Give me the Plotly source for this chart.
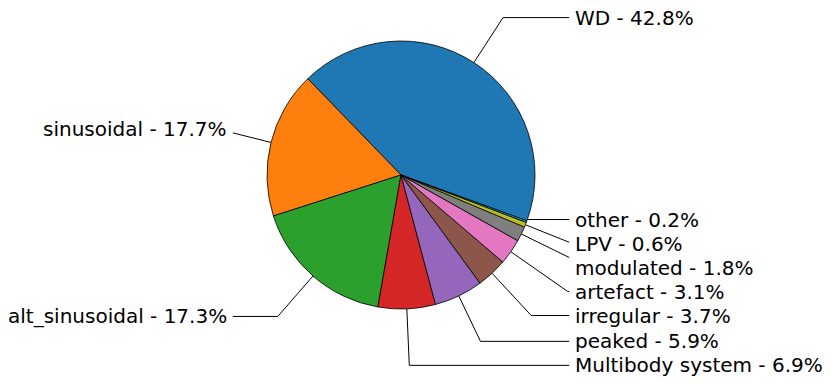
import numpy as np
import plotly.graph_objects as go

# ---- data ----
labels = ["WD", "sinusoidal", "alt_sinusoidal", "Multibody system", "peaked",
          "irregular", "artefact", "modulated", "LPV", "other"]
percent = [42.8, 17.7, 17.3, 6.9, 5.9, 3.7, 3.1, 1.8, 0.6, 0.2]
colors = ["#1f77b4", "#ff7f0e", "#2ca02c", "#d62728", "#9467bd",
          "#8c564b", "#e377c2", "#7f7f7f", "#bcbd22", "#17becf"]

# ---- layout constants (pixels) ----
W, H = 831, 385
CX, CY, R = 401, 175, 134
START = -20.0        # start angle of first wedge (deg, math convention)
TEXT_Y = 1.4         # label y factor (matplotlib-style 1.4*y)
TEXT_X = 1.28        # label x factor
EDGE_X = 1.255       # leader line end factor
GAP = 24             # minimum vertical gap between labels (px)

n = len(percent)
total = float(sum(percent))
cum = np.concatenate([[0.0], np.cumsum(percent)])
theta1 = START + 360.0 * cum[:-1] / total
theta2 = START + 360.0 * cum[1:] / total
mid = np.deg2rad((theta1 + theta2) / 2.0)

px_ = CX + R * np.cos(mid)
py_ = CY - R * np.sin(mid)
side = np.where(np.cos(mid) >= 0, 1, -1)
ty = CY - TEXT_Y * R * np.sin(mid)

# de-overlap labels per side (cluster spreading)
for s in (1, -1):
    idx = sorted([i for i in range(n) if side[i] == s], key=lambda i: ty[i])
    clusters = [[i] for i in idx]

    def positions(cl):
        c = np.mean([ty[i] for i in cl])
        m = len(cl)
        return [c + (k - (m - 1) / 2.0) * GAP for k in range(m)]

    merged = True
    while merged:
        merged = False
        for k in range(len(clusters) - 1):
            a, b = positions(clusters[k]), positions(clusters[k + 1])
            if a[-1] + GAP > b[0]:
                clusters[k] = clusters[k] + clusters[k + 1]
                del clusters[k + 1]
                merged = True
                break
    new_ty = ty.copy()
    for cl in clusters:
        for i, y in zip(cl, positions(cl)):
            new_ty[i] = y
    ty = new_ty

# leader lines
lx, ly = [], []
for i in range(n):
    s = side[i]
    ex = CX + s * EDGE_X * R
    dy = CY - ty[i]
    corner_x = CX + dy * np.cos(mid[i]) / np.sin(mid[i])
    if s * (corner_x - ex) > 0:
        y_at = CY - (ex - CX) * np.tan(mid[i])
        lx += [px_[i], ex, None]
        ly += [py_[i], y_at, None]
    else:
        lx += [px_[i], corner_x, ex, None]
        ly += [py_[i], ty[i], ty[i], None]

fig = go.Figure()

fig.add_trace(go.Pie(
    values=percent, labels=labels, sort=False, direction="counterclockwise",
    rotation=90.0 - theta2[0],
    marker=dict(colors=colors, line=dict(color="black", width=0.8)),
    textinfo="none", hoverinfo="label+percent", showlegend=False,
    domain=dict(x=[(CX - R) / W, (CX + R) / W],
                y=[1 - (CY + R) / H, 1 - (CY - R) / H]),
))

fig.add_trace(go.Scatter(x=lx, y=ly, mode="lines",
                         line=dict(color="black", width=1),
                         hoverinfo="skip", showlegend=False))

for i in range(n):
    s = side[i]
    fig.add_annotation(
        x=CX + s * TEXT_X * R, y=ty[i], xref="x", yref="y",
        text=f"{labels[i]} - {percent[i]:.1f}%",
        xanchor="left" if s > 0 else "right", yanchor="middle",
        showarrow=False, font=dict(family="DejaVu Sans", size=20, color="black"),
    )

fig.update_layout(
    width=W, height=H, margin=dict(l=0, r=0, t=0, b=0),
    paper_bgcolor="white", plot_bgcolor="white",
    xaxis=dict(range=[0, W], visible=False, fixedrange=True, domain=[0, 1]),
    yaxis=dict(range=[H, 0], visible=False, fixedrange=True, domain=[0, 1]),
    showlegend=False,
)

fig.write_html("out.html",
               config={"displayModeBar": False},
               post_script="document.body.style.margin='0';document.body.style.overflow='hidden';")
